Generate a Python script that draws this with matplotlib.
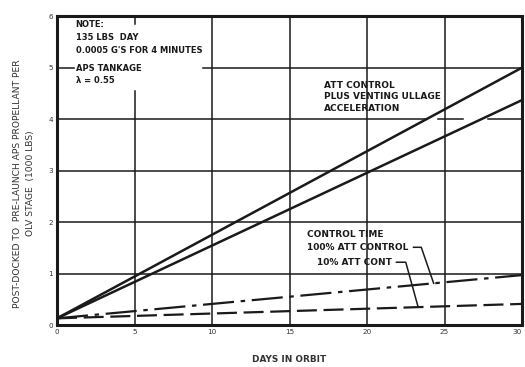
import numpy as np
import matplotlib.pyplot as plt

# days in orbit and propellant (1000 lbs) at start / end of each curve
days = [0, 30]
att_plus_vent_upper = [0.13, 5.0]
att_plus_vent_lower = [0.13, 4.37]
att_100 = [0.13, 0.97]
att_10 = [0.13, 0.41]

xticks = [0, 5, 10, 15, 20, 25, 30]
yticks = [0, 1, 2, 3, 4, 5, 6]

ink = '#1a1a1a'
plt.rcParams['font.family'] = ['DejaVu Sans']

fig = plt.figure(figsize=(5.25, 3.67), dpi=100)
ax = fig.add_axes([0.1086, 0.1144, 0.8857, 0.8415])
ax.set_xlim(0, 30)
ax.set_ylim(0, 6)

# hand drawn style grid, with gaps where the notes sit
for x in [10, 15, 20, 25]:
    ax.plot([x, x], [0, 6], color=ink, lw=1.1, zorder=1)
ax.plot([5, 5], [0, 4.55], color=ink, lw=1.1, zorder=1)
ax.plot([5, 5], [5.85, 6], color=ink, lw=1.1, zorder=1)
for y in [1, 2, 3]:
    ax.plot([0, 30], [y, y], color=ink, lw=1.1, zorder=1)
ax.plot([0, 23.9], [4, 4], color=ink, lw=1.1, zorder=1)
ax.plot([24.6, 26.2], [4, 4], color=ink, lw=1.1, zorder=1)
ax.plot([27.8, 30], [4, 4], color=ink, lw=1.1, zorder=1)
ax.plot([0, 1.1], [5, 5], color=ink, lw=1.1, zorder=1)
ax.plot([9.4, 30], [5, 5], color=ink, lw=1.1, zorder=1)

ax.plot(days, att_plus_vent_upper, color=ink, lw=1.8, zorder=3)
ax.plot(days, att_plus_vent_lower, color=ink, lw=1.8, zorder=3)
ax.plot(days, att_100, color=ink, lw=1.6, dashes=(14, 3, 2, 3), zorder=3)
ax.plot(days, att_10, color=ink, lw=1.6, dashes=(9, 3), zorder=3)

for s in ax.spines.values():
    s.set_linewidth(2.2)
    s.set_color(ink)

ax.set_xticks(xticks)
ax.set_yticks(yticks)
ax.tick_params(length=0, pad=3, labelsize=5.2, colors='#333333')
# last x label sits on the figure edge, keep it inside
ax.get_xticklabels()[-1].set_horizontalalignment('right')

ax.set_xlabel('DAYS IN ORBIT', fontsize=6.4, fontweight='bold', color='#333333', labelpad=14)
fig.text(0.046, 0.5, 'POST-DOCKED TO  PRE-LAUNCH APS PROPELLANT PER\nOLV STAGE  (1000 LBS)',
         rotation=90, ha='center', va='center', fontsize=6.6, color='#333333',
         linespacing=1.5, multialignment='center')

txt = dict(fontsize=6.0, fontweight='bold', color=ink, va='center', ha='left')
ax.text(1.2, 5.83, 'NOTE:', **txt)
ax.text(1.2, 5.59, '135 LBS  DAY', **txt)
ax.text(1.2, 5.34, "0.0005 G'S FOR 4 MINUTES", **txt)
ax.text(1.2, 4.99, 'APS TANKAGE', **txt)
ax.text(1.2, 4.76, '\u03bb = 0.55', **txt)

big = dict(txt, fontsize=6.5)
ax.text(17.2, 4.43, 'ATT CONTROL\nPLUS VENTING ULLAGE\nACCELERATION', linespacing=1.35, **big)

ax.text(16.1, 1.75, 'CONTROL TIME', **big)
ax.text(16.1, 1.51, '100% ATT CONTROL', **big)
ax.text(16.8, 1.22, '10% ATT CONT', **big)

# leader lines from labels to the curves
x100 = 24.3
y100 = np.interp(x100, days, att_100)
ax.plot([23.0, 23.5, x100], [1.51, 1.51, y100], color=ink, lw=1.1, zorder=4)
x10 = 23.3
y10 = np.interp(x10, days, att_10)
ax.plot([21.9, 22.5, x10], [1.22, 1.22, y10], color=ink, lw=1.1, zorder=4)

fig.savefig('out.png', dpi=100, facecolor='white')
